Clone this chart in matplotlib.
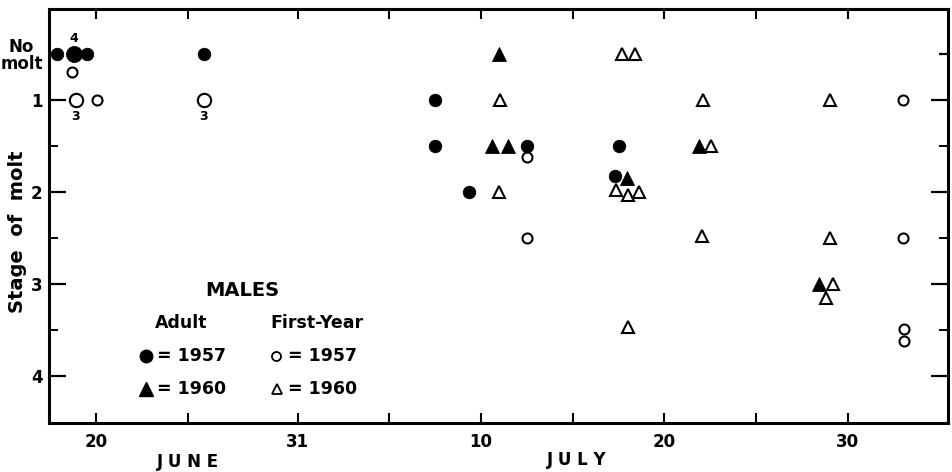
import matplotlib
matplotlib.use("Agg")
import matplotlib.pyplot as plt

plt.rcParams['font.family'] = ['DejaVu Sans']
plt.rcParams['font.weight'] = 'bold'

# ---- data (x = day on the chart's date scale, y = stage of molt; 0.5 = "No molt") ----
adult57_day   = [17.87, 18.80, 19.51, 25.89, 38.48, 38.48, 43.50, 40.34, 48.52, 48.30]
adult57_stage = [0.5,   0.5,   0.5,   0.5,   1.0,   1.5,   1.5,   2.0,   1.5,   1.83]
adult57_count = [1,     4,     1,     1,     1,     1,     1,     1,     1,     1]

adult60_day   = [41.97, 41.60, 42.46, 48.95, 52.88, 59.42]
adult60_stage = [0.5,   1.5,   1.5,   1.85,  1.5,   3.0]

fy57_day   = [18.69, 18.90, 20.05, 25.89, 43.50, 43.50, 64.00, 64.00, 64.06, 64.06]
fy57_stage = [0.7,   1.0,   1.0,   1.0,   1.62,  2.5,   1.0,   2.5,   3.49,  3.62]
fy57_count = [1,     3,     1,     3,     1,     1,     1,     1,     1,     1]

fy60_day   = [42.03, 41.97, 48.68, 49.39, 48.35, 49.00, 49.60, 49.00,
              53.10, 53.53, 53.04, 60.02, 60.02, 60.19, 59.80]
fy60_stage = [1.0,   2.0,   0.5,   0.5,   1.98,  2.03,  2.0,   3.47,
              1.0,   1.5,   2.48,  1.0,   2.5,   3.0,   3.15]

x_ticks = [20, 25, 31, 36, 41, 46, 51, 56, 61]
x_ticklabels = ['20', '', '31', '', '10', '', '20', '', '30']
y_ticks = [0.5, 1, 2, 3, 4]
y_ticklabels = ['No\nmolt', '1', '2', '3', '4']
y_minor = [1.5, 2.5, 3.5]

W, H = 953, 472
fig = plt.figure(figsize=(W / 100, H / 100), dpi=100)
ax = fig.add_axes([49 / W, 1 - 423 / H, (948 - 49) / W, (423 - 9) / H])
ax.set_xlim(17.44, 66.46)
ax.set_ylim(4.51, 0.01)

for s in ax.spines.values():
    s.set_linewidth(2.2)

# markers
def draw(days, stages, marker, filled, ms_small, ms_big, counts=None):
    for i, (d, s) in enumerate(zip(days, stages)):
        c = counts[i] if counts else 1
        ms = ms_big if c > 1 else ms_small
        if filled:
            ax.plot(d, s, marker=marker, ms=ms, color='black', mec='black', mew=0.6,
                    ls='none', zorder=3)
        else:
            ax.plot(d, s, marker=marker, ms=ms, mfc='white', mec='black', mew=1.5,
                    ls='none', zorder=3)
        if c > 1:
            if filled:
                ax.annotate(str(c), (d, s), xytext=(0, 11.5), textcoords='offset points',
                            ha='center', va='center', fontsize=9, fontweight='bold')
            else:
                ax.annotate(str(c), (d, s), xytext=(0, -11.5), textcoords='offset points',
                            ha='center', va='center', fontsize=9, fontweight='bold')

draw(fy57_day, fy57_stage, 'o', False, 7.2, 9.6, fy57_count)
draw(fy60_day, fy60_stage, '^', False, 8.6, 8.6)
draw(adult57_day, adult57_stage, 'o', True, 9.0, 11.5, adult57_count)
draw(adult60_day, adult60_stage, '^', True, 10.0, 10.0)

# ticks
ax.set_xticks(x_ticks)
ax.set_xticklabels(x_ticklabels)
ax.set_yticks(y_ticks)
ax.set_yticklabels(y_ticklabels)
ax.set_yticks(y_minor, minor=True)
ax.tick_params(axis='x', which='major', direction='in', length=7, width=1.5,
               top=True, bottom=True, labelsize=12, pad=7)
ax.tick_params(axis='y', which='major', direction='in', length=12.5, width=1.6,
               left=True, right=True, labelsize=12, pad=4.5)
ax.tick_params(axis='y', which='minor', direction='in', length=6.5, width=1.4,
               left=True, right=True)
yt = ax.yaxis.get_major_ticks()[0]
yt.tick1line.set_markersize(0)
yt.tick2line.set_markersize(6.5)
for lab in ax.get_yticklabels():
    lab.set_fontweight('bold')
    lab.set_multialignment('center')
    lab.set_linespacing(0.9)
for lab in ax.get_xticklabels():
    lab.set_fontweight('bold')

# axis titles
fig.text(18 / W, 1 - 232 / H, 'Stage  of  molt', rotation=90, ha='center', va='center',
         fontsize=14, fontweight='bold')
fig.text(188 / W, 1 - 462 / H, 'J U N E', ha='center', va='center', fontsize=12,
         fontweight='bold')
fig.text(577 / W, 1 - 460 / H, 'J U L Y', ha='center', va='center', fontsize=12,
         fontweight='bold')

# key
fig.text(242 / W, 1 - 290 / H, 'MALES', ha='center', va='center', fontsize=14, fontweight='bold')
fig.text(155 / W, 1 - 323 / H, 'Adult', ha='left', va='center', fontsize=12.5, fontweight='bold')
fig.text(270 / W, 1 - 323 / H, 'First-Year', ha='left', va='center', fontsize=12.5, fontweight='bold')
fig.text(157 / W, 1 - 356 / H, '= 1957', ha='left', va='center', fontsize=12.5, fontweight='bold')
fig.text(157 / W, 1 - 389 / H, '= 1960', ha='left', va='center', fontsize=12.5, fontweight='bold')
fig.text(288 / W, 1 - 356 / H, '= 1957', ha='left', va='center', fontsize=12.5, fontweight='bold')
fig.text(288 / W, 1 - 389 / H, '= 1960', ha='left', va='center', fontsize=12.5, fontweight='bold')
key = [(146, 356, 'o', True, 9.0), (146, 389, '^', True, 10.0),
       (276, 356, 'o', False, 6.5), (277, 389, '^', False, 7.5)]
for px, py, m, filled, ms in key:
    if filled:
        ax.plot(px / W, 1 - py / H, marker=m, ms=ms, color='black', ls='none',
                transform=fig.transFigure, clip_on=False)
    else:
        ax.plot(px / W, 1 - py / H, marker=m, ms=ms, mfc='white', mec='black', mew=1.3,
                ls='none', transform=fig.transFigure, clip_on=False)

fig.savefig('out.png', dpi=100)
